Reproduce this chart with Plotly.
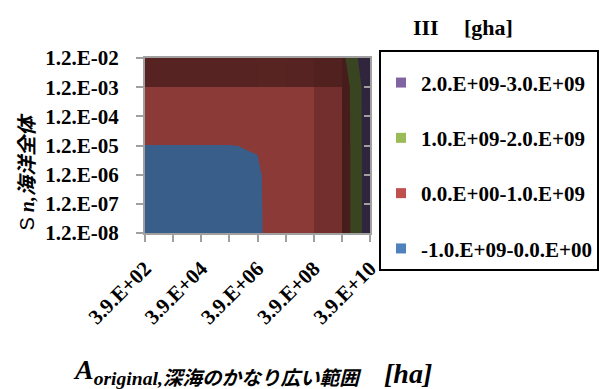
import math
import plotly.graph_objects as go

# Grid axes: A_original (ha) along x, S_n (whole ocean) along y
A_LABELS = ["3.9.E+02", "3.9.E+03", "3.9.E+04", "3.9.E+05", "3.9.E+06",
            "3.9.E+07", "3.9.E+08", "3.9.E+09", "3.9.E+10"]
S_LABELS = ["1.2.E-08", "1.2.E-07", "1.2.E-06", "1.2.E-05",
            "1.2.E-04", "1.2.E-03", "1.2.E-02"]

# Footprint III [gha]; one row per S value (bottom to top), one column per A value
ROW_S_1E08 = [-7.1e5, -7.1e5, -7.1e5, -6.8e5, -4.4e5, 2.0e6, 2.6e7, 2.7e8, 2.71e9]
ROW_S_1E07 = [-6.8e5, -6.8e5, -6.8e5, -6.5e5, -4.1e5, 2.0e6, 2.6e7, 2.7e8, 2.71e9]
ROW_S_1E06 = [-6.5e5, -6.5e5, -6.5e5, -6.2e5, -3.8e5, 2.1e6, 2.7e7, 2.7e8, 2.71e9]
ROW_S_1E05 = [-9.0e4, -9.0e4, -8.7e4, -6.3e4, 1.8e5, 2.6e6, 2.7e7, 2.7e8, 2.71e9]
ROW_S_1E04 = [5.4e6, 5.4e6, 5.4e6, 5.4e6, 5.7e6, 8.1e6, 3.2e7, 2.8e8, 2.72e9]
ROW_S_1E03 = [3.0e7, 3.0e7, 3.0e7, 3.0e7, 3.0e7, 3.3e7, 5.7e7, 3.0e8, 2.74e9]
ROW_S_1E02 = [4.5e8, 4.5e8, 4.5e8, 4.5e8, 4.5e8, 4.5e8, 4.8e8, 7.1e8, 2.98e9]

# Band edges and legend
LEVEL_START, LEVEL_END, LEVEL_STEP = 0.0, 2.0e9, 1.0e9
LEGEND_LABELS = ["2.0.E+09-3.0.E+09", "1.0.E+09-2.0.E+09",
                 "0.0.E+00-1.0.E+09", "-1.0.E+09-0.0.E+00"]
LEGEND_COLORS = ["#8064A2", "#9BBB59", "#C0504D", "#4F81BD"]

Z = [ROW_S_1E08, ROW_S_1E07, ROW_S_1E06, ROW_S_1E05, ROW_S_1E04, ROW_S_1E03, ROW_S_1E02]
nx, ny = len(A_LABELS), len(S_LABELS)
xs = list(range(nx))
ys = list(range(ny))

blue, red, green, purple = LEGEND_COLORS[3], LEGEND_COLORS[2], LEGEND_COLORS[1], LEGEND_COLORS[0]
band_scale = [[0.0, blue], [1 / 6, blue], [1 / 6, red], [0.5, red],
              [0.5, green], [5 / 6, green], [5 / 6, purple], [1.0, purple]]

# Surface lighting: each grid cell darkens with its slope, as in a 3-D surface seen from above
BASE_LIGHT, MAX_DROP, SX0, SY0 = 0.73, 0.36, 0.355e9, 0.34e9
shade = []
for r in range(ny - 1):
    row = []
    for c in range(nx - 1):
        sx = ((Z[r][c + 1] - Z[r][c]) + (Z[r + 1][c + 1] - Z[r + 1][c])) / 2
        sy = ((Z[r + 1][c] - Z[r][c]) + (Z[r + 1][c + 1] - Z[r][c + 1])) / 2
        u = (max(sx, 0) / SX0) ** 2 + (max(sy, 0) / SY0) ** 2
        light = BASE_LIGHT - MAX_DROP * (1 - math.exp(-u))
        row.append(1 - light)
    shade.append(row)

fig = go.Figure()

fig.add_trace(go.Contour(
    x=xs, y=ys, z=Z,
    autocontour=False,
    contours=dict(start=LEVEL_START, end=LEVEL_END, size=LEVEL_STEP, coloring="fill"),
    colorscale=band_scale,
    line=dict(width=0, smoothing=0),
    showscale=False, hoverinfo="skip", showlegend=False,
))

fig.add_trace(go.Heatmap(
    x=list(range(nx)), y=list(range(ny)), z=shade,
    zmin=0, zmax=1,
    colorscale=[[0, "rgba(0,0,0,0)"], [1, "rgba(0,0,0,1)"]],
    showscale=False, hoverinfo="skip", showlegend=False,
    xaxis="x", yaxis="y2",
))

for i, (label, color) in enumerate(zip(LEGEND_LABELS, LEGEND_COLORS)):
    fig.add_trace(go.Scatter(
        x=[None], y=[None], mode="markers", name=label,
        marker=dict(symbol="square", size=10, color=color),
        legendgroup=f"g{i}",
    ))

serif = "Liberation Serif, Times New Roman, serif"
tickfont = dict(family=serif, size=21, color="black", weight="bold")
grey = "#A0A0A0"

W, H = 610, 389
ML, MR, MT, MB = 145, 239, 58, 156
PW, PH = W - ML - MR, H - MT - MB


def px(x):
    return (x - ML) / PW


def py(y):
    return (H - MB - y) / PH


labelled = xs[::2]
fig.update_layout(
    width=W, height=H,
    margin=dict(l=ML, r=MR, t=MT, b=MB, pad=0),
    paper_bgcolor="white", plot_bgcolor="white",
    xaxis=dict(range=[0, nx - 1], tickvals=labelled,
               ticktext=[A_LABELS[i] for i in labelled],
               tickangle=-45, tickfont=tickfont, ticks="outside", ticklen=7,
               tickwidth=2, tickcolor=grey, showline=True, linecolor=grey,
               linewidth=2, mirror=True, showgrid=False, zeroline=False,
               ticklabelstandoff=6, fixedrange=True,
               minor=dict(tickvals=xs[1::2], ticks="outside", ticklen=7,
                          tickwidth=2, tickcolor=grey, showgrid=False)),
    yaxis=dict(range=[0, ny - 1], tickvals=ys, ticktext=S_LABELS,
               tickfont=tickfont, ticks="outside", ticklen=7, tickwidth=2,
               tickcolor=grey, showline=True, linecolor=grey, linewidth=2,
               mirror=True, showgrid=False, zeroline=False,
               ticklabelstandoff=13, fixedrange=True),
    yaxis2=dict(range=[0, ny - 1], overlaying="y", side="right", tickvals=ys,
                showticklabels=False, ticks="inside", ticklen=6, tickwidth=2,
                tickcolor=grey, showline=False, showgrid=False, zeroline=False,
                fixedrange=True),
    showlegend=True,
    legend=dict(x=px(379), y=py(50), xanchor="left", yanchor="top",
                bordercolor="black", borderwidth=2, bgcolor="white",
                font=dict(family=serif, size=21, color="black", weight="bold"),
                tracegroupgap=25, traceorder="grouped", maxheight=400,
                title=dict(text=" ", font=dict(size=8))),
)

cjk = "Liberation Serif, Noto Sans CJK JP, serif"
annotations = [
    dict(text="<b>III</b>", x=px(412), y=py(27), xanchor="left", yanchor="middle",
         font=dict(family=serif, size=22, color="black")),
    dict(text="<b>[gha]</b>", x=px(463), y=py(27), xanchor="left", yanchor="middle",
         font=dict(family=serif, size=22, color="black")),
    dict(text='<span style="font-family:Liberation Sans;font-weight:normal;font-style:normal">S</span>'
              ' <b><i>n,海洋全体</i></b>',
         x=px(26), y=py(172), xanchor="center", yanchor="middle", textangle=-90,
         font=dict(family=cjk, size=20, color="black")),
    dict(text="<b><i>A<sub>original,深海のかなり広い範囲</sub></i></b>",
         x=px(71), y=py(371), xanchor="left", yanchor="middle",
         font=dict(family=cjk, size=28, color="black")),
    dict(text="<b><i>[ha]</i></b>", x=px(383), y=py(373), xanchor="left", yanchor="middle",
         font=dict(family=serif, size=28, color="black")),
]
for a in annotations:
    a.update(xref="paper", yref="paper", showarrow=False)
fig.update_layout(annotations=annotations)

fig.write_html("out.html")
